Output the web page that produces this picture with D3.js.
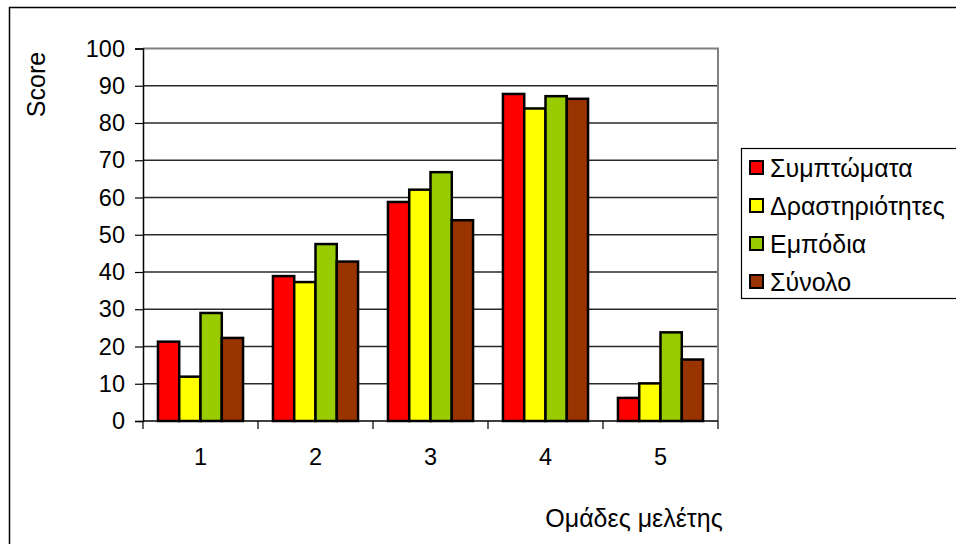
<!DOCTYPE html>
<html>
<head>
<meta charset="utf-8">
<script src="https://cdn.jsdelivr.net/npm/d3@7"></script>
<style>
  html, body { margin: 0; padding: 0; background: #fff; }
  svg { display: block; font-family: "Liberation Sans", Arial, sans-serif; }
</style>
</head>
<body>
<svg id="chart" width="956" height="544"></svg>
<script>
// Study groups on the x axis
const categories = ["1", "2", "3", "4", "5"];
// Series names and their fill colours
const seriesNames = ["Συμπτώματα", "Δραστηριότητες", "Εμπόδια", "Σύνολο"];
const seriesColors = ["#ff0000", "#ffff00", "#99cc00", "#993300"];
// Score per group, one array per series
const symptoms   = [21.3, 38.9, 58.8, 87.8, 6.2];
const activities = [11.9, 37.3, 62.1, 83.9, 10.1];
const barriers   = [29.0, 47.5, 66.8, 87.2, 23.8];
const total      = [22.3, 42.8, 53.9, 86.5, 16.5];
const yTicks = [0, 10, 20, 30, 40, 50, 60, 70, 80, 90, 100];

const seriesValues = [symptoms, activities, barriers, total];

const svg = d3.select("#chart");

// outer chart frame
svg.append("rect")
  .attr("x", 9.5).attr("y", 7.5)
  .attr("width", 960).attr("height", 560)
  .attr("fill", "none").attr("stroke", "#000").attr("stroke-width", 1.5);

const plot = { left: 143, right: 718, top: 48.5, bottom: 421 };

const x = d3.scaleBand()
  .domain(categories)
  .range([plot.left, plot.right])
  .paddingInner(0.26)
  .paddingOuter(0.13);

const xs = d3.scaleBand()
  .domain(seriesNames)
  .range([0, x.bandwidth()]);

const y = d3.scaleLinear().domain([0, 100]).range([plot.bottom, plot.top]);

// gridlines
svg.append("g")
  .selectAll("line")
  .data(yTicks.filter(t => t > 0 && t < 100))
  .join("line")
  .attr("x1", plot.left).attr("x2", plot.right)
  .attr("y1", d => y(d)).attr("y2", d => y(d))
  .attr("stroke", "#2a2a2a").attr("stroke-width", 1.5);

// plot area top and right border
svg.append("path")
  .attr("d", `M${plot.left},${y(100)}H${plot.right}V${plot.bottom}`)
  .attr("fill", "none").attr("stroke", "#808080").attr("stroke-width", 2);

// bars
const groups = svg.append("g")
  .selectAll("g")
  .data(categories)
  .join("g")
  .attr("transform", d => `translate(${x(d)},0)`);

groups.selectAll("rect")
  .data((c, i) => seriesNames.map((s, j) => ({ s, j, v: seriesValues[j][i] })))
  .join("rect")
  .attr("x", d => xs(d.s))
  .attr("width", xs.bandwidth())
  .attr("y", d => y(d.v))
  .attr("height", d => y(0) - y(d.v))
  .attr("fill", d => seriesColors[d.j])
  .attr("stroke", "#000")
  .attr("stroke-width", 2.5);

// y axis
const yAxis = svg.append("g")
  .attr("transform", `translate(${plot.left},0)`)
  .call(d3.axisLeft(y).tickValues(yTicks).tickSize(8).tickPadding(10));
yAxis.select(".domain").attr("stroke", "#000").attr("stroke-width", 1.5);
yAxis.selectAll(".tick line").attr("stroke", "#000").attr("stroke-width", 1.2);
yAxis.selectAll(".tick text")
  .attr("font-size", 23.5).attr("fill", "#000")
  .attr("font-family", "Liberation Sans, Arial, sans-serif");

// x axis: ticks sit between the groups
const xBound = d3.scaleLinear().domain([0, categories.length]).range([plot.left, plot.right]);
const xAxis = svg.append("g").attr("transform", `translate(0,${plot.bottom})`);
xAxis.append("line")
  .attr("x1", plot.left).attr("x2", plot.right)
  .attr("stroke", "#000").attr("stroke-width", 1.5);
xAxis.selectAll("line.tk")
  .data(d3.range(categories.length + 1))
  .join("line").attr("class", "tk")
  .attr("x1", d => xBound(d)).attr("x2", d => xBound(d))
  .attr("y1", 0).attr("y2", 8)
  .attr("stroke", "#000").attr("stroke-width", 1.2);
xAxis.selectAll("text")
  .data(categories)
  .join("text")
  .attr("x", d => x(d) + x.bandwidth() / 2)
  .attr("y", 44)
  .attr("text-anchor", "middle")
  .attr("font-size", 23.5)
  .text(d => d);

// axis titles
svg.append("text")
  .attr("transform", "translate(45,84.5) rotate(-90)")
  .attr("text-anchor", "middle")
  .attr("font-size", 25)
  .text("Score");

svg.append("text")
  .attr("x", 634).attr("y", 527)
  .attr("text-anchor", "middle")
  .attr("font-size", 25)
  .text("Ομάδες μελέτης");

// legend
const legend = svg.append("g");
legend.append("rect")
  .attr("x", 741.5).attr("y", 148.5)
  .attr("width", 230).attr("height", 150)
  .attr("fill", "#fff").attr("stroke", "#000").attr("stroke-width", 1.2);

const items = legend.selectAll("g.item")
  .data(seriesNames)
  .join("g").attr("class", "item")
  .attr("transform", (d, i) => `translate(0,${168 + i * 38})`);
items.append("rect")
  .attr("x", 750).attr("y", -7)
  .attr("width", 13).attr("height", 13)
  .attr("fill", (d, i) => seriesColors[i])
  .attr("stroke", "#000").attr("stroke-width", 2);
items.append("text")
  .attr("x", 770).attr("y", 9)
  .attr("font-size", 25)
  .text(d => d);
</script>
</body>
</html>
